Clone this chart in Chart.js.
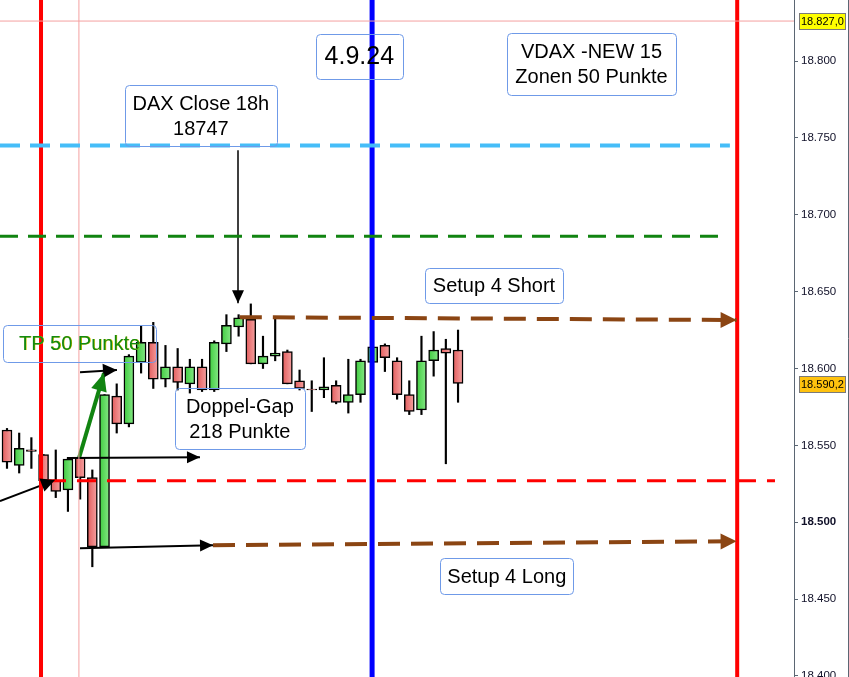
<!DOCTYPE html>
<html lang="de">
  <head>
    <meta charset="UTF-8" />
    <title>DAX 4.9.24</title>
    <style>
      html, body { margin: 0; padding: 0; background: #fff; }
    </style>
  </head>
  <body>
    <canvas id="myChart" width="849" height="677"></canvas>

    <script src="https://cdn.jsdelivr.net/npm/chart.js"></script>
    <script>
      // candles (index = bar number)
      const opens  = [18560, 18537, 18547, 18544, 18527, 18521, 18542, 18529, 18484, 18582,
                      18564, 18604, 18617, 18593, 18601, 18590, 18601, 18586, 18616, 18627,
                      18632, 18603, 18608, 18611, 18592, 18586.6, 18586, 18589, 18578, 18583,
                      18604, 18615, 18605, 18583, 18573, 18605, 18613, 18612];
      const highs  = [18561, 18558, 18555, 18544, 18547, 18542, 18542, 18534, 18583, 18590,
                      18609, 18628, 18630, 18615, 18613, 18606, 18606, 18618, 18635, 18635,
                      18642, 18621, 18633, 18612, 18599, 18592, 18607, 18592, 18606, 18606,
                      18614, 18616, 18607, 18592, 18621, 18624, 18619, 18625];
      const lows   = [18535, 18532, 18535, 18526, 18516, 18507, 18515, 18471, 18484, 18558,
                      18562, 18597, 18587, 18588, 18586, 18584, 18585, 18585, 18611, 18621,
                      18603, 18600, 18605, 18590, 18586, 18572, 18581, 18577, 18571, 18578,
                      18604, 18598, 18580, 18570, 18570, 18595, 18538, 18578];
      const closes = [18539, 18548, 18546, 18527, 18520, 18541, 18529, 18484, 18583, 18564,
                      18608, 18617, 18593, 18601, 18591, 18601, 18586, 18617, 18628, 18633,
                      18603, 18608, 18610, 18590, 18587, 18586, 18588, 18578, 18583, 18605,
                      18614, 18607, 18583, 18572, 18605, 18612, 18610, 18590.2];

      const tickValues = [18400, 18450, 18500, 18550, 18600, 18650, 18700, 18750, 18800];
      const lastPrice = 18590.2;
      const topLevel = 18826;

      // horizontal levels
      const levelDaxClose = 18745;
      const levelGreen = 18686;
      const levelRed = 18527;
      const levelShort = [18633.4, 18631.5];
      const levelLong = [18485, 18487.6];

      // vertical markers (bar index)
      const markRedLeft = 2.79;
      const markPink = 5.9;
      const markBlue = 29.95;
      const markRedRight = 59.9;

      const xMin = -0.574, xMax = 64.56;
      const yMin = 18399.3, yMax = 18839.7;

      function fmt(v) {
        const s = String(Math.round(v));
        return s.slice(0, 2) + '.' + s.slice(2);
      }

      function seg(x0, y0, x1, y1, color, width, dash, arrow) {
        return {
          type: 'line',
          data: [{x: x0, y: y0}, {x: x1, y: y1}],
          borderColor: color,
          borderWidth: width,
          borderDash: dash || [],
          pointRadius: 0,
          fill: false,
          order: 1,
          arrow: arrow || null
        };
      }

      const lineSets = [
        seg(xMin, topLevel, xMax, topLevel, '#f4a0a0', 1),
        seg(xMin, levelDaxClose, 59.3, levelDaxClose, '#45bdf8', 4, [20, 10]),
        seg(xMin, levelGreen, 58.5, levelGreen, '#118411', 3, [18, 10]),
        seg(3.28, levelRed, 63.0, levelRed, '#ff0000', 3, [19, 11]),
        seg(19.1, levelShort[0], 59.85, levelShort[1], '#8b4513', 4, [22, 11], {len: 16, half: 8}),
        seg(16.9, levelLong[0], 59.85, levelLong[1], '#8b4513', 4, [22, 11], {len: 16, half: 8}),
        seg(markRedLeft, yMin, markRedLeft, yMax, '#ff0000', 4),
        seg(markPink, yMin, markPink, yMax, '#f4a0a0', 1),
        seg(markBlue, yMin, markBlue, yMax, '#0000ff', 5),
        seg(markRedRight, yMin, markRedRight, yMax, '#ff0000', 4),
        seg(xMin, 18513.7, 3.94, 18527.4, '#000', 2, null, {len: 14, half: 7}),
        seg(4.92, 18541.7, 15.83, 18542.3, '#000', 2, null, {len: 13, half: 6}),
        seg(5.99, 18483.1, 16.9, 18485.0, '#000', 2, null, {len: 13, half: 6}),
        seg(5.99, 18597.6, 9.02, 18599.0, '#000', 2, null, {len: 14, half: 7}),
        seg(5.9, 18541.5, 7.96, 18597.0, '#118411', 4, null, {len: 18, half: 8}),
        seg(18.95, 18742, 18.95, 18642.5, '#000', 1.5, null, {len: 13, half: 6})
      ];

      const notes = [
        {lines: ['TP 50 Punkte'], x: 5.95, y: 18616.2, w: 153, h: 37, size: 20, color: '#128a12', ghost: '#d8c400'},
        {lines: ['4.9.24'], x: 28.9, y: 18802.9, w: 87, h: 45, size: 25, color: '#000'},
        {lines: ['DAX Close 18h', '18747'], x: 15.9, y: 18764.5, w: 152, h: 61, size: 20, color: '#000'},
        {lines: ['VDAX -NEW 15', 'Zonen 50 Punkte'], x: 47.95, y: 18798, w: 169, h: 62, size: 20, color: '#000'},
        {lines: ['Setup 4 Short'], x: 39.95, y: 18653.9, w: 138, h: 35, size: 20, color: '#000'},
        {lines: ['Doppel-Gap', '218 Punkte'], x: 19.1, y: 18567.4, w: 130, h: 61, size: 20, color: '#000'},
        {lines: ['Setup 4 Long'], x: 41.0, y: 18464.9, w: 133, h: 36, size: 20, color: '#000'}
      ];

      // body fill: slight left-to-right shading like the original
      function bodyFill(c) {
        const i = c.dataIndex;
        const up = closes[i] >= opens[i];
        const chart = c.chart;
        if (!chart.chartArea || !chart.scales.x) return up ? '#5ad65a' : '#ec7a7a';
        const px = chart.scales.x.getPixelForValue(i);
        const g = chart.ctx.createLinearGradient(px - 5, 0, px + 5, 0);
        if (up) {
          g.addColorStop(0, '#3fcc3f');
          g.addColorStop(1, '#86e886');
        } else {
          g.addColorStop(0, '#e25c5c');
          g.addColorStop(1, '#f5a2a2');
        }
        return g;
      }

      const overlay = {
        id: 'overlay',
        afterDatasetsDraw(chart) {
          const c = chart.ctx, xs = chart.scales.x, ys = chart.scales.y;
          // arrow heads
          chart.data.datasets.forEach((ds, di) => {
            if (!ds.arrow) return;
            const pts = chart.getDatasetMeta(di).data;
            const p0 = pts[0], p1 = pts[1];
            const a = Math.atan2(p1.y - p0.y, p1.x - p0.x);
            const L = ds.arrow.len, H = ds.arrow.half;
            c.save();
            c.fillStyle = ds.borderColor;
            c.translate(p1.x, p1.y);
            c.rotate(a);
            c.beginPath();
            c.moveTo(0, 0);
            c.lineTo(-L, -H);
            c.lineTo(-L, H);
            c.closePath();
            c.fill();
            c.restore();
          });
          // text boxes
          notes.forEach(n => {
            const cx = xs.getPixelForValue(n.x), cy = ys.getPixelForValue(n.y);
            c.save();
            c.strokeStyle = '#6f9ae8';
            c.lineWidth = 1;
            c.beginPath();
            c.roundRect(Math.round(cx - n.w / 2) + 0.5, Math.round(cy - n.h / 2) + 0.5, n.w, n.h, 4);
            c.stroke();
            c.font = n.size + 'px "Liberation Sans", Arial, sans-serif';
            c.textAlign = 'center';
            c.textBaseline = 'middle';
            const lh = n.size * 1.25;
            n.lines.forEach((t, k) => {
              const ty = cy + (k - (n.lines.length - 1) / 2) * lh + 1;
              if (n.ghost) {
                c.fillStyle = n.ghost;
                c.fillText(t, cx + 0.6, ty);
              }
              c.fillStyle = n.color;
              c.fillText(t, cx, ty);
            });
            c.restore();
          });
        },
        afterDraw(chart) {
          const c = chart.ctx, ys = chart.scales.y;
          c.save();
          c.strokeStyle = '#5b6673';
          c.lineWidth = 1;
          c.beginPath();
          c.moveTo(848.5, 0);
          c.lineTo(848.5, 677);
          c.stroke();
          const tag = (v, txt, bg) => {
            const y = Math.round(ys.getPixelForValue(v));
            c.fillStyle = bg;
            c.fillRect(799, y - 8, 46, 16);
            c.strokeStyle = '#7a7a7a';
            c.strokeRect(799.5, y - 7.5, 46, 16);
            c.fillStyle = '#000';
            c.font = '11px "Liberation Sans", Arial, sans-serif';
            c.textAlign = 'left';
            c.textBaseline = 'middle';
            c.fillText(txt, 801, y + 1);
          };
          tag(topLevel, '18.827,0', '#ffff00');
          tag(lastPrice, '18.590,2', '#ffc20e');
          c.restore();
        }
      };

      const ctx = document.getElementById('myChart');

      const myChart = new Chart(ctx, {
        type: 'bar',
        data: {
          datasets: [
            {
              label: 'wick',
              data: opens.map((o, i) => ({x: i, y: [lows[i], highs[i]]})),
              backgroundColor: '#000',
              borderWidth: 0,
              barThickness: 1.5,
              grouped: false,
              order: 3
            },
            {
              label: 'body',
              data: opens.map((o, i) => ({x: i, y: [o, closes[i]]})),
              backgroundColor: bodyFill,
              borderColor: '#000',
              borderWidth: 1.5,
              borderSkipped: false,
              barThickness: 10,
              grouped: false,
              order: 2
            },
            ...lineSets
          ]
        },
        options: {
          responsive: false,
          animation: false,
          layout: { padding: 0 },
          plugins: {
            legend: { display: false },
            tooltip: { enabled: false }
          },
          scales: {
            x: {
              type: 'linear',
              min: xMin,
              max: xMax,
              offset: false,
              display: false
            },
            y: {
              position: 'right',
              min: yMin,
              max: yMax,
              afterBuildTicks: s => { s.ticks = tickValues.map(v => ({value: v})); },
              afterFit: s => {
                s.width = 55;
                s.paddingTop = 0;
                s.paddingBottom = 0;
              },
              border: { display: true, color: '#5b6673', width: 1 },
              grid: { drawOnChartArea: false, drawTicks: true, tickLength: 4, color: '#5b6673' },
              ticks: {
                padding: 3,
                color: '#101028',
                font: c => ({
                  family: '"Liberation Sans", Arial, sans-serif',
                  size: 11.5,
                  weight: c.tick && c.tick.value === 18500 ? 'bold' : 'normal'
                }),
                callback: v => fmt(v)
              }
            }
          }
        },
        plugins: [overlay]
      });
    </script>
  </body>
</html>
